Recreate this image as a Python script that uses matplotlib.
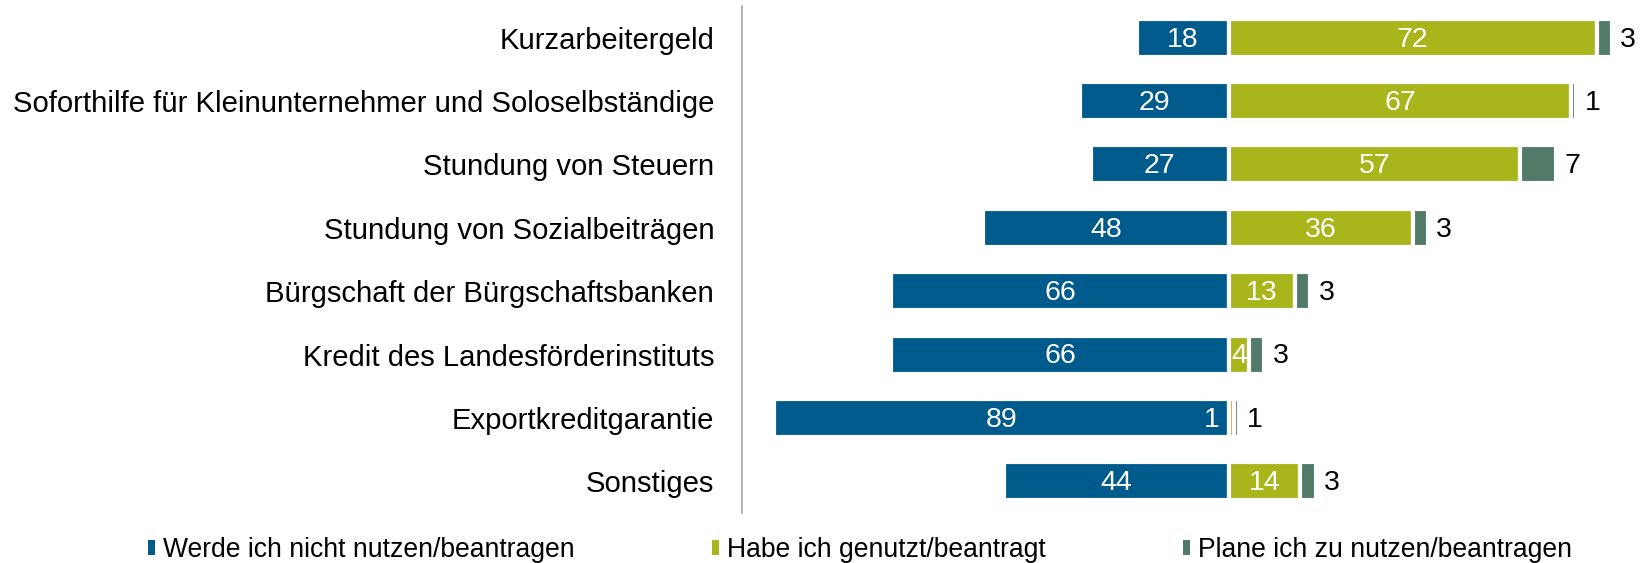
import matplotlib
matplotlib.use("Agg")
import matplotlib.pyplot as plt
from matplotlib.patches import Patch

plt.rcParams["font.family"] = ["Liberation Sans", "DejaVu Sans"]

categories = [
    "Kurzarbeitergeld",
    "Soforthilfe für Kleinunternehmer und Soloselbständige",
    "Stundung von Steuern",
    "Stundung von Sozialbeiträgen",
    "Bürgschaft der Bürgschaftsbanken",
    "Kredit des Landesförderinstituts",
    "Exportkreditgarantie",
    "Sonstiges",
]
not_use = [18, 29, 27, 48, 66, 66, 89, 44]
used = [72, 67, 57, 36, 13, 4, 1, 14]
planned = [3, 1, 7, 3, 3, 3, 1, 3]

series_names = ["Werde ich nicht nutzen/beantragen",
                "Habe ich genutzt/beantragt",
                "Plane ich zu nutzen/beantragen"]
colors = ["#005B8D", "#A8B51B", "#527A68"]

W, H = 1652, 563
fig = plt.figure(figsize=(W / 100, H / 100), dpi=100)
ax = fig.add_axes([742 / W, 50 / H, 1 - 742 / W, 507 / H])

y = list(range(len(categories)))
bh = 0.6
edge = dict(edgecolor="white", linewidth=3)
ax.barh(y, [-v for v in not_use], height=bh, color=colors[0], **edge)
ax.barh(y, used, height=bh, color=colors[1], **edge)
ax.barh(y, planned, left=used, height=bh, color=colors[2], **edge)

fs = 20.5
dy = 0.03  # digits have no descender, nudge down to look centred
for i in y:
    ax.text(-not_use[i] / 2, i + dy, str(not_use[i]), ha="center",
            va="center", color="white", fontsize=fs)
    if used[i] > 1:
        ax.text(used[i] / 2, i + dy, str(used[i]), ha="center",
                va="center", color="white", fontsize=fs)
    else:
        ax.text(-1.8, i + dy, str(used[i]), ha="right", va="center",
                color="white", fontsize=fs)
    ax.text(used[i] + planned[i] + 1.6, i + dy, str(planned[i]), ha="left",
            va="center", color="black", fontsize=fs)

ax.set_xlim(-95.2, 82.8)
ax.set_ylim(len(categories) - 0.5, -0.5)
ax.set_xticks([])
ax.set_yticks(y)
ax.set_yticklabels(categories, fontsize=21.1)
ax.tick_params(axis="y", length=0, pad=20)
for s in ["top", "right", "bottom"]:
    ax.spines[s].set_visible(False)
ax.spines["left"].set_color("#A6A6A6")
ax.spines["left"].set_linewidth(1.2)

handles = [Patch(facecolor=c) for c in colors]
fig.legend(handles, series_names, loc="center left",
           bbox_to_anchor=(148 / W, 13 / H), ncol=3, frameon=False,
           fontsize=19.1, handlelength=0.25, handleheight=0.45,
           handletextpad=0.3, columnspacing=5.2, borderaxespad=0,
           borderpad=0)

fig.savefig("out.png", dpi=100)
